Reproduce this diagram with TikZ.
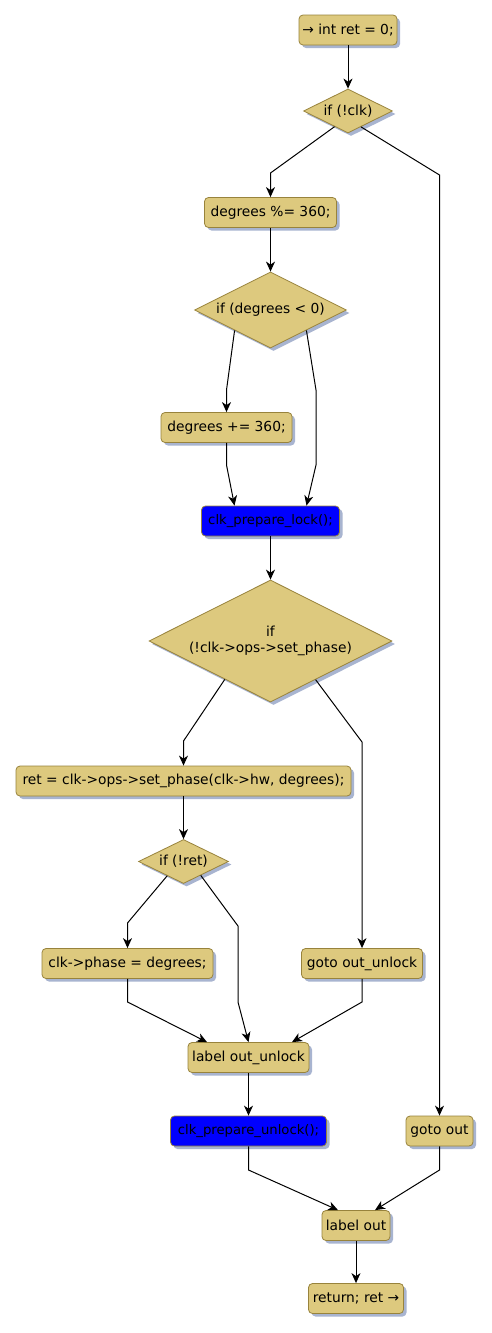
\documentclass[tikz,border=0pt]{standalone}
\usepackage{fontspec}
\newfontfamily\dv{DejaVu Sans}
\usetikzlibrary{shapes.geometric,arrows.meta,shadows,calc}
\definecolor{boxc}{RGB}{221,201,126}
\definecolor{bordc}{RGB}{152,131,60}
\definecolor{shadc}{RGB}{168,180,208}
\tikzset{
  shad/.style={drop shadow={shadow xshift=3pt,shadow yshift=-3pt,fill=shadc,opacity=1}},
  box/.style={draw=bordc,fill=boxc,rounded corners=4pt,line width=0.8pt,minimum height=30pt,inner sep=0pt,
    font={\dv\fontsize{13.8}{16}\selectfont},shad},
  bluebox/.style={box,fill=blue,font={\dv\fontsize{13.2}{16}\selectfont}},
  dec/.style={draw=bordc,fill=boxc,shape=diamond,aspect=2,inner sep=0pt,line width=0.8pt,align=center,
    font={\dv\fontsize{13.8}{16}\selectfont},shad},
  flow/.style={draw=black,line width=1pt,-{Stealth[length=10pt,width=9pt,inset=3pt]}}
}
\begin{document}
\begin{tikzpicture}[x=1pt,y=-1pt]
\useasboundingbox[fill=white] (0,0) rectangle (492,1333);
\node[box,minimum width=98pt] (n1) at (348,30) {→ int ret = 0;};
\node[dec,minimum width=89pt,minimum height=44pt] (d2) at (348,111) {if (!clk)};
\node[box,minimum width=132pt] (n3) at (270.5,212.5) {degrees \%= 360;};
\node[dec,minimum width=152pt,minimum height=76pt] (d4) at (270.5,310) {if (degrees < 0)};
\node[box,minimum width=131pt] (n5) at (226.5,427.5) {degrees += 360;};
\node[bluebox,minimum width=138pt] (n6) at (270.5,521) {clk\_prepare\_lock();};
\node[dec,minimum width=243pt,minimum height=122pt] (d7) at (270.5,641) {if\\(!clk->ops->set\_phase)};
\node[box,minimum width=335pt] (n8) at (183.5,781) {ret = clk->ops->set\_phase(clk->hw, degrees);};
\node[dec,minimum width=90pt,minimum height=44pt] (d9) at (183.5,861.5) {if (!ret)};
\node[box,minimum width=171pt] (n10) at (127.5,963.5) {clk->phase = degrees;};
\node[box,minimum width=121pt] (n11) at (362,963.5) {goto out\_unlock};
\node[box,minimum width=121pt] (n12) at (248.5,1057.5) {label out\_unlock};
\node[bluebox,minimum width=156pt] (n13) at (248.5,1131) {clk\_prepare\_unlock();};
\node[box,minimum width=67pt] (n14) at (439.5,1131) {goto out};
\node[box,minimum width=68pt] (n15) at (356,1225.5) {label out};
\node[box,minimum width=95pt] (n16) at (356,1298.5) {return; ret →};

\draw[flow] (n1.south) -- (d2.north);
\draw[flow] ($(d2.west)!0.7!(d2.south)$) -- (270.5,173) -- (n3.north);
\draw[flow] ($(d2.east)!0.71!(d2.south)$) -- (439.5,175) -- (n14.north);
\draw[flow] (n3.south) -- (d4.north);
\draw[flow] ($(d4.west)!0.53!(d4.south)$) -- (226.5,390) -- (n5.north);
\draw[flow] ($(d4.east)!0.53!(d4.south)$) -- (316,390) -- (316,465) -- ([xshift=36pt]n6.north);
\draw[flow] (n5.south) -- (226.5,465) -- ([xshift=-36pt]n6.north);
\draw[flow] (n6.south) -- (d7.north);
\draw[flow] ($(d7.west)!0.625!(d7.south)$) -- (183.5,741) -- (n8.north);
\draw[flow] ($(d7.east)!0.63!(d7.south)$) -- (362,742) -- (n11.north);
\draw[flow] (n8.south) -- (d9.north);
\draw[flow] ($(d9.west)!0.64!(d9.south)$) -- (127.5,923) -- (n10.north);
\draw[flow] ($(d9.east)!0.62!(d9.south)$) -- (238,926) -- (238,1002) -- (n12.north);
\draw[flow] (n10.south) -- (127.5,1002) -- ([xshift=-41.5pt]n12.north);
\draw[flow] (n11.south) -- (362,1002) -- ([xshift=43.5pt]n12.north);
\draw[flow] (n12.south) -- (n13.north);
\draw[flow] (n13.south) -- (248.5,1170) -- ([xshift=-18pt]n15.north);
\draw[flow] (n14.south) -- (439.5,1170) -- ([xshift=19pt]n15.north);
\draw[flow] (n15.south) -- (n16.north);
\end{tikzpicture}
\end{document}
